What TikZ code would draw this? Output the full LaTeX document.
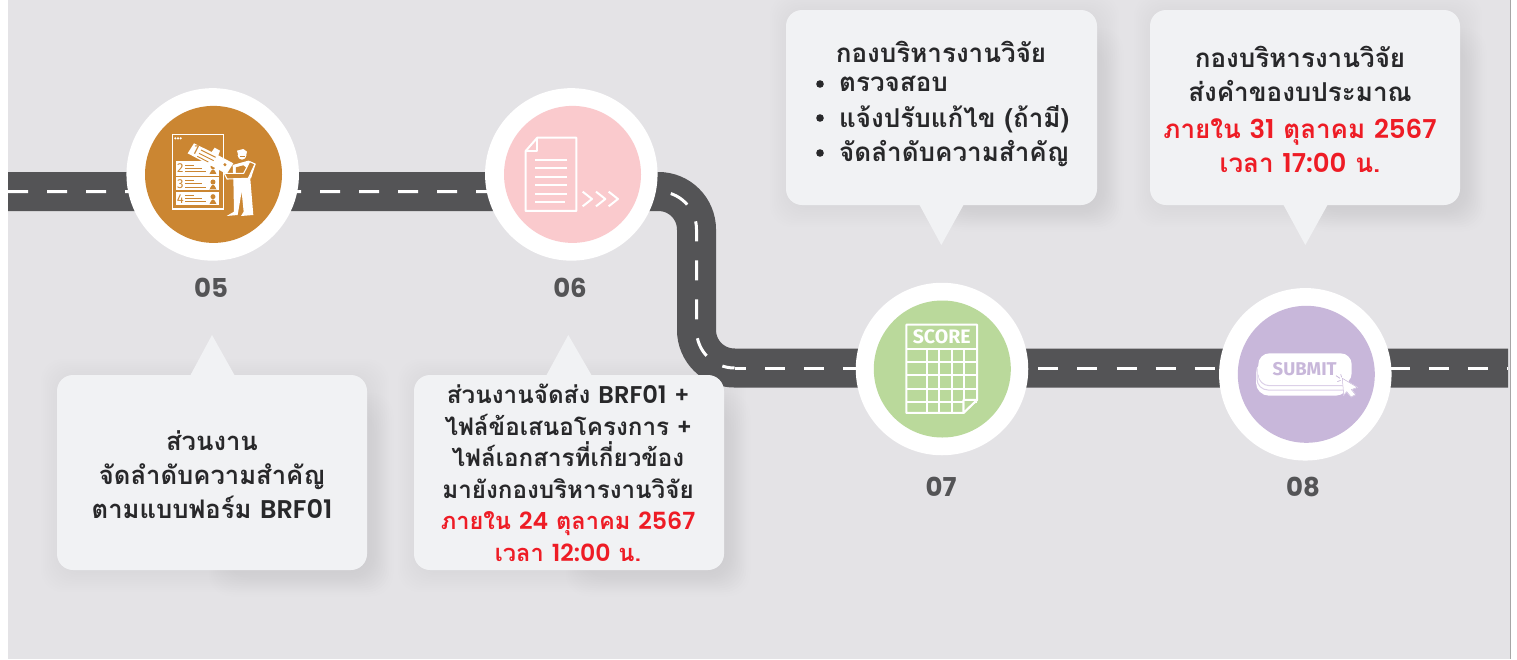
\documentclass[tikz,border=0pt]{standalone}
\usepackage{fontspec}
\setmainfont{Liberation Sans}
\newfontfamily\thaifont[Script=Thai]{Loma}
\newfontfamily\latf{Poppins SemiBold}
\newfontfamily\numf{Poppins}
\newfontfamily\iconf{Fira Sans}
\usetikzlibrary{calc}
\definecolor{bgc}{HTML}{E4E3E6}
\definecolor{road}{HTML}{545456}
\definecolor{card}{HTML}{F1F2F4}
\definecolor{tx}{HTML}{28282A}
\definecolor{num}{HTML}{545456}
\definecolor{redt}{HTML}{EE1C25}
\definecolor{c5}{HTML}{CB8632}
\definecolor{c6}{HTML}{FACACD}
\definecolor{c7}{HTML}{BAD99B}
\definecolor{c8}{HTML}{C8B7DA}
\definecolor{c8l}{HTML}{DCD0E8}
\definecolor{shad}{HTML}{C2C2CE}
\newcommand{\la}[1]{{\latf\mdseries #1}}
\newcommand{\softshadow}[4]{%
  \foreach \i in {0,...,9}{
    \fill[shad,opacity=.01,rounded corners=22pt]
      ({#1+3-\i*2.1},{#2+3-\i*2.1}) rectangle ({#3+3+\i*2.1},{#4+3+\i*2.1});
    \fill[shad,opacity=.014,rounded corners=22pt]
      ({#1+170-\i*2},{#2+36-\i*2}) rectangle ({#3+8+\i*2},{#4+8+\i*2});
  }}
\tikzset{x=1pt,y=-1pt,
  roadline/.style={road,line width=39pt},
  dashline/.style={white,line width=3pt,dash pattern=on 20pt off 19pt},
  ring/.style={circle,fill=white,minimum size=172.5pt,inner sep=0pt},
  disc/.style={circle,minimum size=137pt,inner sep=0pt},
  numlabel/.style={font=\numf\bfseries\fontsize{26}{28}\selectfont,text=num},
  cardbox/.style={fill=card,rounded corners=16pt},
  cardtext/.style={font=\thaifont\bfseries\fontsize{25.6}{34}\selectfont,text=tx,align=center,inner sep=0pt},
  toptext/.style={font=\thaifont\bfseries\fontsize{26}{34}\selectfont,text=tx,align=center,inner sep=0pt},
  smalltext/.style={font=\thaifont\bfseries\fontsize{24.2}{31.5}\selectfont,text=tx,align=center,inner sep=0pt},
  iconline/.style={white,line width=2pt,line join=round},
  zoomed/.style={shift={#1},x=.3333pt,y=-.3333pt}}
\begin{document}
\begin{tikzpicture}
\useasboundingbox (0,0) rectangle (1517,659);
\fill[white] (0,0) rectangle (1517,659);
\fill[bgc] (8,0) rectangle (1510,659);
\draw[gray!70,line width=.7pt] (1510,0) -- (1510,659);
% card shadows
\softshadow{57}{375}{367}{570}
\softshadow{414}{375}{724}{570}
\softshadow{786}{10}{1097}{205}
\softshadow{1150}{10}{1460}{205}
% road
\coordinate (rs) at (8,191.5);
\coordinate (rb) at (734.5,368);
\coordinate (re) at (1508,368);
\draw[roadline] (rs) -- (658.5,191.5) arc[start angle=-90,end angle=0,radius=38] -- (696.5,330) arc[start angle=180,end angle=90,radius=38] -- (re);
\draw[dashline] (rs) -- (658.5,191.5) arc[start angle=-90,end angle=0,radius=38] -- (696.5,330) arc[start angle=180,end angle=90,radius=38];
\draw[white,line width=3pt,dash pattern=on 20pt off 19.05pt,dash phase=8.5pt] (rb) -- (re);
% stations
\foreach \n/\rx/\ry/\dx/\c in {a/212.7/174.4/213.5/c5,b/571.3/174.4/572.5/c6,c/942/369/942.3/c7,d/1305.3/374.3/1306.3/c8}{
  \node[ring] (ring\n) at (\rx,\ry) {};
  \node[disc,fill=\c] (disc\n) at (\dx,\ry) {};
}
\node[numlabel] (n5) at (211,288) {05};
\node[numlabel] (n6) at (570,288) {06};
\node[numlabel] (n7) at (941,487) {07};
\node[numlabel] (n8) at (1303,487) {08};
% icon 05
\begin{scope}[zoomed={(165,130)}]
\draw[white,line width=1.5pt] (22,14) rectangle (175,237);
\foreach \q in {31,39,47} \fill[white] (\q,25) circle (3.6);
\foreach \q/\w/\nm/\lab/\t in {92/138/r2/2/4,142/181/r3/3/0,186/226/r4/4/0}{
  \fill[white] (32,\q) rectangle (163,\w);
  \node[font=\iconf\fontsize{13}{13}\selectfont,text=c5,inner sep=0pt] (\nm) at (46,{(\q+\w)/2}) {\lab};
  \draw[c5,line width=.9pt] (60,{\q+10+\t}) -- (88,{\q+10+\t}) (60,{\q+19+\t}) -- (112,{\q+19+\t}) (60,{\q+29+\t}) -- (124,{\q+29+\t});
  \fill[c5] (144,{\q+14+\t}) circle (7.5);
  \fill[c5] (133,{\q+36+\t}) to[out=-90,in=180] (144,{\q+22+\t}) to[out=0,in=-90] (155,{\q+36+\t}) -- cycle;
}
\fill[white] (87,40) -- (140,66) -- (149,53) -- (165,62) -- (160,76) -- (205,100) -- (185,132) -- (68,70) -- cycle;
\node[font=\iconf\fontsize{14}{14}\selectfont,text=c5,inner sep=0pt,rotate=-27] (r1) at (93,60) {1};
\draw[c5,line width=.9pt] (108,60) -- (152,82) (102,70) -- (146,92) (97,79) -- (130,96);
\fill[c5] (180,104) circle (5);
\fill[white] (205,142) -- (255,135) -- (265,255) -- (228,258) -- (236,245) -- (230,185) -- (218,255) -- (185,258) -- (207,245) -- cycle;
\fill[white] (203,105) -- (250,92) -- (272,102) -- (258,145) -- (205,148) -- cycle;
\fill[c5] (213,112) -- (235,106) -- (250,118) -- (243,135) -- (213,138) -- cycle;
\fill[white] (231,76) circle (13);
\fill[white] (216,62) -- (235,57) -- (246,65) -- (242,82) -- (220,76) -- cycle;
\fill[c5] (224,78) rectangle (241,82);
\draw[white,line width=1.1pt,fill=c5] (178,130) -- (186,147) -- (250,145) -- (270,102) -- (254,95) -- (236,130) -- cycle;
\end{scope}
% icon 06
\begin{scope}[zoomed={(470,80)}]
\draw[iconline] (167,213) -- (202,173) -- (319,173) -- (319,393) -- (167,393) -- cycle;
\draw[iconline] (202,173) -- (202,213) -- (167,213);
\foreach \q/\e in {240/290,265/290,290/290,315/290,341/290,366/285} \draw[iconline] (196,\q) -- (\e,\q);
\foreach \q in {338,378,416} \draw[iconline] (\q,335) -- (\q+28,357) -- (\q,379);
\end{scope}
% icon 07
\begin{scope}[zoomed={(850,280)}]
\draw[iconline] (169,134) -- (381,134) -- (381,360) -- (340,399) -- (169,399) -- cycle;
\foreach \q in {207,245,285,326,367} \draw[iconline] (169,\q) -- (381,\q);
\foreach \q in {232,268,305,341} \draw[iconline] (\q,207) -- (\q,399);
\fill[c7] (343,399) -- (381,362) -- (343,362) -- cycle;
\draw[iconline] (340,399) -- (340,360) -- (381,360) -- cycle;
\node[font=\iconf\bfseries\fontsize{19.5}{19.5}\selectfont,text=white,inner sep=0pt] (scoret) at (275,171) {SCORE};
\end{scope}
% icon 08
\begin{scope}[zoomed={(1250,345)}]
\fill[white,rounded corners=13pt] (18,45) rectangle (296,152);
\draw[c8l,line width=1pt,rounded corners=11pt] (21,70) -- (21,135) -- (285,135);
\draw[c8l,line width=1pt,rounded corners=11pt] (25,90) -- (25,122) -- (290,122);
\fill[white,rounded corners=11pt] (25,25) rectangle (305,118);
\node[font=\iconf\bfseries\fontsize{18.5}{18.5}\selectfont,text=c8,inner sep=0pt] (submitt) at (164,72) {SUBMIT};
\draw[white,fill=white,line width=.6pt,line join=round,postaction={draw=c8,line width=.5pt}] (277,100) -- (322,127) -- (304,134) -- (317,149) -- (303,156) -- (290,140) -- (281,151) -- cycle;
\draw[c8,line width=.7pt] (258,92) -- (270,100) (272,88) -- (275,97) (262,110) -- (272,106);
\end{scope}
% cards
\fill[cardbox] (57,375) rectangle (367,570);
\fill[card] (190,376) -- (212,335) -- (235,376) -- cycle;
\fill[cardbox] (414,375) rectangle (724,570);
\fill[card] (546,376) -- (568.3,335) -- (592,376) -- cycle;
\fill[cardbox] (786,10) rectangle (1097,205);
\fill[card] (919,204) -- (941.3,245) -- (964,204) -- cycle;
\fill[cardbox] (1150,10) rectangle (1460,205);
\fill[card] (1283,204) -- (1305.3,245) -- (1328,204) -- cycle;
\node[cardtext] (t5) at (212,475) {ส่วนงาน\\จัดลำดับความสำคัญ\\ตามแบบฟอร์ม \la{BRF01}};
\node[smalltext] (t6) at (568,473) {ส่วนงานจัดส่ง \la{BRF01} +\\ไฟล์ข้อเสนอโครงการ +\\ไฟล์เอกสารที่เกี่ยวข้อง\\มายังกองบริหารงานวิจัย\\{\fontsize{23.6}{31.5}\selectfont\color{redt}ภายใน \la{24} ตุลาคม \la{2567}}\\{\fontsize{23.6}{31.5}\selectfont\color{redt}เวลา \la{12:00} น.}};
\node[toptext] (t7h) at (941,52) {กองบริหารงานวิจัย};
\node[toptext,anchor=west] (t7a) at (839,84) {ตรวจสอบ};
\node[toptext,anchor=west] (t7b) at (839,119) {แจ้งปรับแก้ไข (ถ้ามี)};
\node[toptext,anchor=west] (t7c) at (839,154) {จัดลำดับความสำคัญ};
\foreach \yy in {84,118,153} \fill[tx] (820,\yy) circle (3.8pt);
\node[toptext] (t8a) at (1300,73.5) {กองบริหารงานวิจัย\\ส่งคำของบประมาณ};
\node[toptext] (t8b) at (1300,146) {{\color{redt}ภายใน \la{31} ตุลาคม \la{2567}}\\{\color{redt}เวลา \la{17:00} น.}};
\end{tikzpicture}
\end{document}
